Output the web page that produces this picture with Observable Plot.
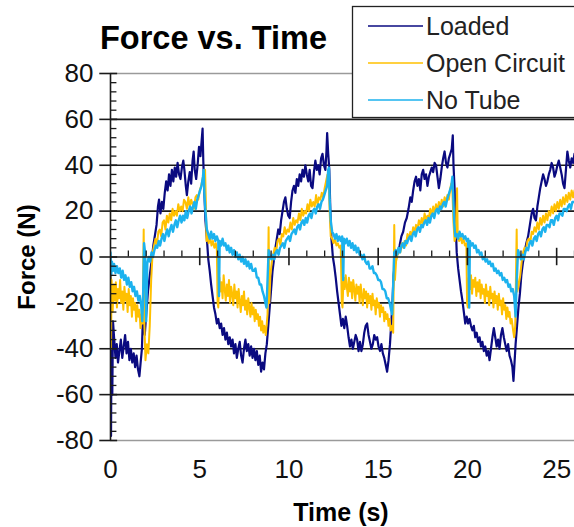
<!DOCTYPE html>
<html><head><meta charset="utf-8">
<script src="https://cdn.jsdelivr.net/npm/d3@7"></script>
<script src="https://cdn.jsdelivr.net/npm/@observablehq/plot@0.6"></script>
<style>
body{margin:0;background:#fff;}
#chart{position:relative;width:574px;height:527px;overflow:hidden;}
</style>
</head><body><div id="chart"></div>
<script>
const titleText = "Force vs. Time";
const xLabel = "Time (s)";
const yLabel = "Force (N)";
const seriesNames = ["Loaded", "Open Circuit", "No Tube"];
const seriesColors = ["#0a0a80", "#ffc000", "#1cb2ee"];
const yTicks = [-80, -60, -40, -20, 0, 20, 40, 60, 80];
const xTicks = [0, 5, 10, 15, 20, 25];

// [time (s), force (N)]
const loaded = [
[0,-5],[0.03,-78],[0.06,-30],[0.1,-60],[0.14,-28],[0.2,-35],[0.28,-44],[0.35,-38],[0.42,-46],[0.5,-41],
[0.58,-36],[0.66,-44],[0.74,-39],[0.82,-34],[0.9,-42],[0.98,-37],[1.06,-45],[1.14,-40],[1.22,-46],[1.3,-42],
[1.38,-48],[1.46,-43],[1.54,-49],[1.62,-52],[1.7,-45],[1.76,-40],[1.8,-30],[1.86,-28],[1.92,-34],[2,-25],
[2.1,-15],[2.2,-8],[2.3,-2],[2.4,5],[2.5,10],[2.58,14],[2.66,22],[2.72,25],[2.8,19],[2.88,24],
[2.96,21],[3.04,28],[3.12,33],[3.2,29],[3.28,36],[3.36,31],[3.44,38],[3.52,33],[3.6,39],[3.68,35],
[3.76,41],[3.84,36],[3.92,34],[4,39],[4.08,42],[4.14,38],[4.22,31],[4.28,27],[4.36,33],[4.44,37],
[4.52,32],[4.6,42],[4.66,46],[4.72,38],[4.8,34],[4.88,40],[4.96,48],[5.04,44],[5.1,50],[5.16,56],
[5.2,42],[5.26,28],[5.32,16],[5.4,8],[5.48,-1],[5.56,-6],[5.64,-12],[5.72,-17],[5.8,-22],[5.88,-25],
[5.96,-29],[6.04,-27],[6.12,-31],[6.2,-29],[6.28,-34],[6.36,-31],[6.44,-36],[6.52,-33],[6.6,-38],[6.68,-35],
[6.76,-39],[6.84,-36],[6.92,-42],[7,-38],[7.08,-44],[7.16,-40],[7.24,-37],[7.32,-43],[7.4,-46],[7.48,-40],
[7.56,-36],[7.64,-41],[7.72,-38],[7.8,-43],[7.88,-39],[7.96,-44],[8.04,-40],[8.12,-45],[8.2,-41],[8.28,-47],
[8.36,-43],[8.44,-50],[8.52,-46],[8.6,-49],[8.68,-42],[8.76,-38],[8.84,-30],[8.92,-22],[9,-14],[9.08,-6],
[9.16,-1],[9.24,4],[9.32,8],[9.4,12],[9.48,10],[9.56,16],[9.64,20],[9.72,24],[9.8,26],[9.88,21],
[9.96,18],[10.04,17],[10.12,24],[10.2,29],[10.28,31],[10.36,28],[10.44,34],[10.52,31],[10.6,36],[10.68,33],
[10.76,38],[10.84,35],[10.92,40],[11,36],[11.08,33],[11.16,38],[11.24,31],[11.32,30],[11.4,37],[11.48,42],
[11.56,38],[11.64,40],[11.72,36],[11.8,43],[11.88,45],[11.96,40],[12.04,38],[12.1,46],[12.14,54],[12.2,45],
[12.26,38],[12.32,20],[12.38,8],[12.46,0],[12.54,-4],[12.62,-9],[12.7,-15],[12.78,-20],[12.86,-25],[12.94,-30],
[13.02,-27],[13.1,-31],[13.18,-26],[13.26,-30],[13.34,-35],[13.42,-39],[13.5,-36],[13.58,-40],[13.66,-37],[13.74,-34],
[13.82,-36],[13.9,-41],[13.98,-37],[14.06,-41],[14.14,-38],[14.22,-33],[14.3,-30],[14.38,-29],[14.46,-34],[14.54,-37],
[14.62,-40],[14.7,-38],[14.78,-34],[14.86,-36],[14.94,-35],[15.02,-39],[15.1,-41],[15.18,-38],[15.26,-42],[15.34,-44],
[15.42,-47],[15.5,-50],[15.58,-45],[15.66,-38],[15.74,-28],[15.8,-20],[15.86,-8],[15.94,-3],[16.02,0],[16.1,2],
[16.2,5],[16.3,9],[16.4,11],[16.5,15],[16.6,17],[16.7,21],[16.8,26],[16.88,24],[16.96,29],[17.04,33],
[17.12,35],[17.2,31],[17.28,34],[17.36,29],[17.44,36],[17.52,38],[17.6,34],[17.68,36],[17.76,31],[17.84,35],
[17.92,37],[18,39],[18.08,37],[18.16,41],[18.24,40],[18.32,35],[18.4,30],[18.48,34],[18.56,39],[18.64,43],
[18.72,46],[18.8,41],[18.88,39],[18.96,43],[19.04,45],[19.12,47],[19.18,53],[19.22,40],[19.28,30],[19.34,15],
[19.4,2],[19.48,-5],[19.56,-10],[19.64,-15],[19.72,-19],[19.8,-24],[19.88,-29],[19.96,-26],[20.04,-29],[20.12,-27],
[20.2,-30],[20.28,-32],[20.36,-30],[20.44,-35],[20.52,-33],[20.6,-37],[20.68,-35],[20.76,-39],[20.84,-37],[20.92,-41],
[21,-39],[21.08,-43],[21.16,-41],[21.24,-45],[21.32,-40],[21.4,-35],[21.48,-31],[21.56,-35],[21.64,-39],[21.72,-36],
[21.8,-40],[21.88,-34],[21.96,-31],[22.04,-35],[22.12,-38],[22.2,-41],[22.28,-38],[22.36,-43],[22.44,-45],[22.52,-48],
[22.58,-54],[22.64,-46],[22.7,-38],[22.78,-30],[22.86,-22],[22.94,-16],[23.02,-8],[23.1,-3],[23.2,2],[23.3,6],
[23.4,9],[23.5,14],[23.6,19],[23.68,21],[23.76,17],[23.84,16],[23.92,22],[24,26],[24.08,30],[24.16,33],
[24.24,36],[24.32,34],[24.4,31],[24.48,33],[24.56,36],[24.64,38],[24.72,41],[24.8,39],[24.88,35],[24.96,37],
[25.04,40],[25.12,42],[25.2,39],[25.28,36],[25.36,32],[25.44,30],[25.52,38],[25.6,46],[25.68,42],[25.76,39],
[25.84,43],[25.92,41],[26,45]
];

const openCircuit = [
[0,-5],[0.03,-40],[0.06,-10],[0.12,-24],[0.18,-12],[0.24,-19],[0.3,-11],[0.36,-22],[0.42,-14],[0.48,-18],
[0.54,-10],[0.6,-20],[0.66,-15],[0.72,-23],[0.78,-13],[0.84,-19],[0.9,-16],[0.96,-24],[1.02,-14],[1.08,-21],
[1.14,-17],[1.2,-26],[1.26,-18],[1.32,-23],[1.38,-20],[1.44,-28],[1.5,-21],[1.56,-26],[1.62,-23],[1.68,-31],
[1.74,-25],[1.8,-29],[1.86,12],[1.9,-30],[1.96,-45],[2.04,-38],[2.12,-42],[2.2,-30],[2.28,-10],[2.36,2],
[2.44,5],[2.52,8],[2.6,5],[2.68,11],[2.76,12],[2.84,9],[2.92,15],[3,16],[3.08,12],[3.16,18],
[3.24,15],[3.32,19],[3.4,16],[3.48,21],[3.56,18],[3.64,20],[3.72,18],[3.8,23],[3.88,20],[3.96,22],
[4.04,20],[4.12,25],[4.2,24],[4.28,21],[4.36,26],[4.44,22],[4.52,25],[4.6,23],[4.68,21],[4.76,26],
[4.84,27],[4.92,25],[5,29],[5.08,31],[5.16,34],[5.24,37],[5.3,38],[5.34,25],[5.38,7],[5.44,10],
[5.5,6],[5.58,9],[5.66,5],[5.74,7],[5.82,4],[5.9,6],[5.96,3],[6,-20],[6.04,-22],[6.1,-9],
[6.16,-15],[6.22,-11],[6.28,-18],[6.34,-8],[6.4,-14],[6.46,-19],[6.52,-12],[6.58,-17],[6.64,-10],[6.7,-20],
[6.76,-13],[6.82,-16],[6.88,-21],[6.94,-12],[7,-18],[7.06,-15],[7.12,-22],[7.18,-14],[7.24,-19],[7.3,-24],
[7.36,-17],[7.42,-21],[7.48,-15],[7.54,-23],[7.6,-19],[7.66,-25],[7.72,-18],[7.78,-22],[7.84,-26],[7.9,-20],
[7.96,-25],[8.02,-22],[8.08,-28],[8.14,-23],[8.2,-27],[8.26,-25],[8.32,-30],[8.38,-26],[8.44,-32],[8.5,-28],
[8.56,-33],[8.62,-30],[8.7,-34],[8.8,-25],[8.86,13],[8.9,-20],[8.96,-8],[9.04,-2],[9.12,1],[9.2,4],
[9.28,2],[9.36,7],[9.44,8],[9.52,5],[9.6,10],[9.68,9],[9.76,13],[9.84,10],[9.92,12],[10,11],
[10.08,15],[10.16,12],[10.24,17],[10.32,14],[10.4,16],[10.48,15],[10.56,19],[10.64,16],[10.72,21],[10.8,18],
[10.88,20],[10.96,19],[11.04,23],[11.12,20],[11.2,25],[11.28,22],[11.36,24],[11.44,22],[11.52,27],[11.6,23],
[11.68,26],[11.76,25],[11.84,28],[11.92,26],[12,30],[12.08,33],[12.16,36],[12.22,35],[12.28,20],[12.34,9],
[12.42,8],[12.5,6],[12.58,8],[12.66,5],[12.74,6],[12.82,4],[12.9,5],[12.96,-20],[13,-22],[13.06,-9],
[13.12,-14],[13.18,-8],[13.24,-13],[13.3,-17],[13.36,-9],[13.42,-15],[13.48,-11],[13.54,-18],[13.6,-10],[13.66,-14],
[13.72,-19],[13.78,-12],[13.84,-16],[13.9,-13],[13.96,-20],[14.02,-12],[14.08,-17],[14.14,-21],[14.2,-14],[14.26,-18],
[14.32,-15],[14.38,-22],[14.44,-16],[14.5,-20],[14.56,-17],[14.62,-23],[14.68,-16],[14.74,-21],[14.8,-19],[14.86,-25],
[14.92,-18],[14.98,-22],[15.04,-20],[15.1,-26],[15.16,-21],[15.22,-24],[15.28,-22],[15.34,-28],[15.4,-24],[15.46,-27],
[15.52,-25],[15.58,-30],[15.64,-27],[15.7,-32],[15.78,-30],[15.84,-33],[15.9,14],[15.94,-10],[16,-2],[16.08,1],
[16.16,4],[16.24,2],[16.32,6],[16.4,4],[16.48,7],[16.56,5],[16.64,10],[16.72,8],[16.8,11],[16.88,9],
[16.96,13],[17.04,11],[17.12,14],[17.2,12],[17.28,16],[17.36,14],[17.44,17],[17.52,14],[17.6,19],[17.68,16],
[17.76,18],[17.84,17],[17.92,21],[18,18],[18.08,22],[18.16,19],[18.24,23],[18.32,20],[18.4,24],[18.48,21],
[18.56,25],[18.64,22],[18.72,26],[18.8,24],[18.88,27],[18.96,25],[19.04,30],[19.1,32],[19.16,28],[19.22,15],
[19.28,7],[19.34,9],[19.42,30],[19.46,8],[19.54,7],[19.62,9],[19.7,6],[19.78,8],[19.86,5],[19.94,6],
[19.98,-20],[20.02,-22],[20.08,-9],[20.14,-14],[20.2,-8],[20.26,-16],[20.32,-10],[20.38,-13],[20.44,-9],[20.5,-17],
[20.56,-11],[20.62,-15],[20.68,-10],[20.74,-18],[20.8,-12],[20.86,-16],[20.92,-14],[20.98,-20],[21.04,-12],[21.1,-17],
[21.16,-15],[21.22,-21],[21.28,-13],[21.34,-18],[21.4,-16],[21.46,-22],[21.52,-15],[21.58,-20],[21.64,-17],[21.7,-23],
[21.76,-16],[21.82,-21],[21.88,-19],[21.94,-25],[22,-18],[22.06,-23],[22.12,-21],[22.18,-27],[22.24,-22],[22.3,-26],
[22.36,-24],[22.42,-29],[22.48,-27],[22.56,-32],[22.62,-35],[22.68,-30],[22.76,12],[22.8,-15],[22.88,-12],[22.96,-8],
[23.04,-2],[23.12,2],[23.2,4],[23.28,3],[23.36,7],[23.44,8],[23.52,6],[23.6,11],[23.68,10],[23.76,13],
[23.84,11],[23.92,15],[24,12],[24.08,17],[24.16,14],[24.24,18],[24.32,15],[24.4,19],[24.48,16],[24.56,20],
[24.64,18],[24.72,22],[24.8,19],[24.88,23],[24.96,20],[25.04,24],[25.12,21],[25.2,25],[25.28,22],[25.36,26],
[25.44,23],[25.52,27],[25.6,24],[25.68,28],[25.76,25],[25.84,29],[25.92,26],[26,29]
];

const noTube = [
[0,2],[0.04,-8],[0.08,-2],[0.14,-6],[0.2,-3],[0.28,-7],[0.36,-4],[0.44,-7],[0.52,-5],[0.6,-9],
[0.68,-6],[0.76,-10],[0.84,-8],[0.92,-12],[1,-9],[1.08,-13],[1.16,-11],[1.24,-15],[1.32,-13],[1.4,-17],
[1.48,-15],[1.56,-19],[1.64,-17],[1.72,-21],[1.78,-28],[1.82,-20],[1.88,6],[1.94,2],[2,-28],[2.06,-3],
[2.14,0],[2.22,-2],[2.3,2],[2.38,0],[2.46,3],[2.54,5],[2.62,4],[2.7,7],[2.78,5],[2.86,8],
[2.94,10],[3.02,7],[3.1,10],[3.18,12],[3.26,9],[3.34,12],[3.42,14],[3.5,11],[3.58,14],[3.66,16],
[3.74,13],[3.82,16],[3.9,18],[3.98,15],[4.06,18],[4.14,16],[4.22,20],[4.3,17],[4.38,20],[4.46,22],
[4.54,19],[4.62,22],[4.7,24],[4.78,21],[4.86,25],[4.94,27],[5.02,29],[5.1,31],[5.18,35],[5.22,38],
[5.26,28],[5.32,20],[5.4,12],[5.48,10],[5.56,8],[5.64,11],[5.72,8],[5.8,10],[5.88,7],[5.96,9],
[6.04,7],[6.08,-17],[6.12,7],[6.2,5],[6.28,8],[6.36,5],[6.44,6],[6.52,3],[6.6,5],[6.68,2],
[6.76,4],[6.84,1],[6.92,3],[7,0],[7.08,2],[7.16,-1],[7.24,1],[7.32,-2],[7.4,0],[7.48,-3],
[7.56,-1],[7.64,-4],[7.72,-2],[7.8,-5],[7.88,-3],[7.96,-6],[8.04,-6],[8.12,-5],[8.2,-9],[8.28,-9],
[8.36,-12],[8.44,-12],[8.52,-15],[8.6,-17],[8.68,-20],[8.74,-22],[8.8,-10],[8.86,3],[8.94,0],[9.02,-1],
[9.1,1],[9.18,-1],[9.26,2],[9.34,3],[9.42,1],[9.5,4],[9.58,5],[9.66,6],[9.74,4],[9.82,7],
[9.9,8],[9.98,9],[10.06,7],[10.14,10],[10.22,11],[10.3,12],[10.38,10],[10.46,13],[10.54,14],[10.62,12],
[10.7,15],[10.78,16],[10.86,14],[10.94,17],[11.02,15],[11.1,18],[11.18,19],[11.26,17],[11.34,20],[11.42,21],
[11.5,19],[11.58,22],[11.66,23],[11.74,21],[11.82,24],[11.9,25],[11.98,27],[12.06,29],[12.14,31],[12.2,38],
[12.24,39],[12.28,25],[12.34,16],[12.42,11],[12.5,10],[12.58,8],[12.66,10],[12.74,7],[12.82,9],[12.9,7],
[12.98,9],[13.04,-10],[13.08,8],[13.16,6],[13.24,8],[13.32,5],[13.4,7],[13.48,4],[13.56,6],[13.64,3],
[13.72,5],[13.8,2],[13.88,4],[13.96,1],[14.04,1],[14.12,-1],[14.2,1],[14.28,-2],[14.36,-3],[14.44,-2],
[14.52,-5],[14.6,-5],[14.68,-4],[14.76,-7],[14.84,-7],[14.92,-8],[15,-10],[15.08,-10],[15.16,-11],[15.24,-14],
[15.32,-14],[15.4,-15],[15.48,-18],[15.56,-18],[15.64,-20],[15.72,-23],[15.78,-25],[15.84,-12],[15.9,2],[15.98,3],
[16.06,1],[16.14,4],[16.22,2],[16.3,5],[16.38,6],[16.46,4],[16.54,7],[16.62,6],[16.7,8],[16.78,9],
[16.86,7],[16.94,10],[17.02,11],[17.1,9],[17.18,12],[17.26,13],[17.34,11],[17.42,14],[17.5,13],[17.58,15],
[17.66,16],[17.74,14],[17.82,17],[17.9,15],[17.98,18],[18.06,19],[18.14,17],[18.22,20],[18.3,21],[18.38,19],
[18.46,22],[18.54,21],[18.62,23],[18.7,24],[18.78,22],[18.86,25],[18.94,27],[19.02,29],[19.1,31],[19.16,35],
[19.2,28],[19.26,15],[19.32,9],[19.4,10],[19.48,8],[19.56,11],[19.64,9],[19.72,10],[19.8,8],[19.88,9],
[19.96,7],[20.04,8],[20.1,-22],[20.14,7],[20.22,5],[20.3,6],[20.38,4],[20.46,5],[20.54,2],[20.62,3],
[20.7,1],[20.78,2],[20.86,-1],[20.94,0],[21.02,-2],[21.1,-1],[21.18,-3],[21.26,-2],[21.34,-4],[21.42,-3],
[21.5,-6],[21.58,-5],[21.66,-7],[21.74,-6],[21.82,-8],[21.9,-7],[21.98,-10],[22.06,-9],[22.14,-11],[22.22,-10],
[22.3,-13],[22.38,-12],[22.46,-15],[22.54,-14],[22.62,-17],[22.7,-26],[22.76,-10],[22.84,3],[22.92,1],[23,-1],
[23.08,1],[23.16,-1],[23.24,2],[23.32,4],[23.4,3],[23.48,6],[23.56,7],[23.64,5],[23.72,8],[23.8,9],
[23.88,7],[23.96,10],[24.04,11],[24.12,9],[24.2,12],[24.28,13],[24.36,11],[24.44,14],[24.52,14],[24.6,13],
[24.68,16],[24.76,16],[24.84,14],[24.92,17],[25,18],[25.08,16],[25.16,19],[25.24,19],[25.32,18],[25.4,21],
[25.48,21],[25.56,20],[25.64,22],[25.72,23],[25.8,21],[25.88,24],[25.96,24],[26,24]
];

const series = [loaded, openCircuit, noTube];
const seriesWidths = [2.2, 2, 2.4];
const font = "'Liberation Sans', Arial, sans-serif";
const ink = "#1a1a1a";
const yMinor = d3.range(-80, 81, 4).filter(v => v % 20 !== 0);
const xMinor = d3.range(0, 27, 1).filter(v => v % 5 !== 0);
const yGrid = yTicks.filter(v => Math.abs(v) !== 80 && v !== 0);

const plot = Plot.plot({
  width: 574,
  height: 527,
  marginLeft: 110,
  marginRight: 0,
  marginTop: 73,
  marginBottom: 87,
  style: {fontFamily: font, background: "#fff", overflow: "visible"},
  x: {domain: [0, 26], axis: null},
  y: {domain: [-80, 80], axis: null},
  marks: [
    Plot.ruleY([-80, 80], {stroke: "#9a9a9a", strokeWidth: 1.5}),
    Plot.ruleY(yGrid, {stroke: ink, strokeWidth: 1.6}),
    ...series.map((s, i) => Plot.line(s, {x: d => d[0], y: d => d[1], stroke: seriesColors[i], strokeWidth: seriesWidths[i], clip: true})),
    Plot.ruleY([0], {stroke: ink, strokeWidth: 1.6}),
    Plot.ruleX([0], {y1: -80, y2: 80, stroke: ink, strokeWidth: 1.6}),
    Plot.ruleY(yMinor, {x1: 0, x2: 0.36, stroke: ink, strokeWidth: 1.3}),
    Plot.ruleY(yTicks, {x1: -0.6, x2: 0.4, stroke: ink, strokeWidth: 1.6}),
    Plot.ruleX(xMinor, {y1: 0, y2: 2.6, stroke: ink, strokeWidth: 1.3}),
    Plot.ruleX(xTicks.filter(v => v > 0), {y1: -3.8, y2: 3.8, stroke: ink, strokeWidth: 1.6}),
    Plot.text(yTicks, {x: 0, y: d => d, text: d => String(d), textAnchor: "end", dx: -17, fontSize: 26, fill: "#111", fontFamily: font}),
    Plot.text(xTicks, {x: d => d, y: -80, text: d => String(d), dy: 29, fontSize: 26, fill: "#111", fontFamily: font})
  ]
});

document.getElementById("chart").appendChild(plot);
const svg = d3.select(plot);

svg.append("text").attr("x", 100).attr("y", 49).attr("text-anchor", "start").attr("font-family", font)
  .attr("font-size", 32.5).attr("font-weight", "bold").attr("fill", "#000").text(titleText);
svg.append("text").attr("x", 341).attr("y", 521).attr("text-anchor", "middle").attr("font-family", font)
  .attr("font-size", 25).attr("font-weight", "bold").attr("fill", "#000").text(xLabel);
svg.append("text").attr("transform", "translate(35,257) rotate(-90)").attr("text-anchor", "middle").attr("font-family", font)
  .attr("font-size", 24).attr("font-weight", "bold").attr("fill", "#000").text(yLabel);

const lg = svg.append("g");
lg.append("rect").attr("x", 352.5).attr("y", 6.5).attr("width", 240).attr("height", 111)
  .attr("fill", "#fff").attr("stroke", "#222").attr("stroke-width", 1.3);
const legendY = [26, 63, 100];
seriesNames.forEach((name, i) => {
  lg.append("line").attr("x1", 368).attr("x2", 423).attr("y1", legendY[i]).attr("y2", legendY[i])
    .attr("stroke", seriesColors[i]).attr("stroke-width", 1.6);
  lg.append("text").attr("x", 426).attr("y", legendY[i]).attr("dy", "0.35em").attr("text-anchor", "start").attr("font-family", font)
    .attr("font-size", 25).attr("fill", "#222").text(name);
});
</script>
</body></html>
